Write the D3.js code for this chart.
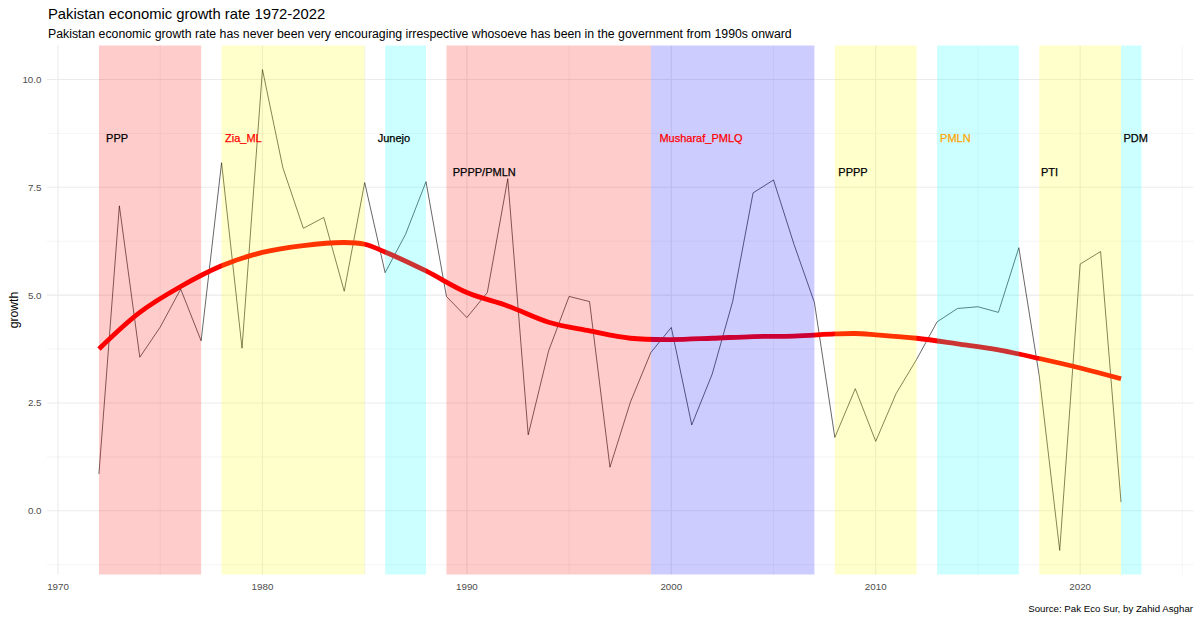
<!DOCTYPE html>
<html>
<head>
<meta charset="utf-8">
<script src="https://cdn.jsdelivr.net/npm/d3@7"></script>
<style>
  html, body { margin: 0; padding: 0; background: #fff; }
  svg { display: block; font-family: "Liberation Sans", Arial, sans-serif; }
</style>
</head>
<body>
<svg id="chart" width="1200" height="620"></svg>
<script>
// ---- data ----
const years = [1972,1973,1974,1975,1976,1977,1978,1979,1980,1981,1982,1983,1984,1985,1986,1987,1988,1989,1990,1991,1992,1993,1994,1995,1996,1997,1998,1999,2000,2001,2002,2003,2004,2005,2006,2007,2008,2009,2010,2011,2012,2013,2014,2015,2016,2017,2018,2019,2020,2021,2022];
const growth = [0.85,7.07,3.56,4.26,5.14,3.94,8.07,3.77,10.23,7.95,6.55,6.80,5.09,7.61,5.52,6.41,7.63,4.97,4.48,5.06,7.70,1.76,3.71,4.97,4.85,1.01,2.52,3.67,4.25,1.99,3.17,4.85,7.37,7.67,6.18,4.83,1.70,2.83,1.61,2.72,3.51,4.38,4.69,4.73,4.60,6.10,3.13,-0.92,5.72,6.01,0.20];

// smoothed trend (loess)
const smoothYears = [1972,1974,1976,1978,1980,1982,1984,1985,1986,1988,1990,1992,1994,1996,1998,2000,2002,2004,2006,2008,2009,2010,2012,2014,2016,2018,2020,2022];
const smoothVals  = [3.75,4.60,5.20,5.68,5.99,6.15,6.22,6.18,6.00,5.56,5.06,4.75,4.37,4.17,4.00,3.97,4.00,4.04,4.05,4.10,4.11,4.08,4.00,3.87,3.73,3.53,3.31,3.06];

// governments
const parties     = ["PPP","Zia_ML","Junejo","PPPP/PMLN","Musharaf_PMLQ","PPPP","PMLN","PTI","PDM"];
const startYears  = [1972,1978,1986,1989,1999,2008,2013,2018,2022];
const endYears    = [1977,1985,1988,1999,2007,2012,2017,2022,2023];
const fillColors  = ["red","yellow","cyan","red","blue","yellow","cyan","yellow","cyan"];
const labelColors = ["black","red","black","black","red","black","orange","black","black"];
const labelX      = [1972.35,1978.17,1985.64,1989.31,1999.42,2008.17,2013.15,2018.08,2022.12];
const labelY      = [8.65,8.65,8.65,7.85,8.65,7.85,8.65,7.85,8.65];

const xTicks = [1970,1980,1990,2000,2010,2020];
const xMinor = [1975,1985,1995,2005,2015,2025];
const yTicks = [0,2.5,5,7.5,10];
const yMinor = [-1.25,1.25,3.75,6.25,8.75];

const titleText = "Pakistan economic growth rate 1972-2022";
const subtitleText = "Pakistan economic growth rate has never been very encouraging irrespective whosoeve has been in the government from 1990s onward";
const captionText = "Source: Pak Eco Sur, by Zahid Asghar";
const yTitle = "growth";

// ---- layout ----
const svg = d3.select("#chart");
const panel = { left: 46.8, right: 1193.6, top: 45.5, bottom: 574.5 };

function padExtent(arr) {
  const [a, b] = d3.extent(arr);
  const p = (b - a) * 0.05;
  return [a - p, b + p];
}
const x = d3.scaleLinear().domain(padExtent(years.concat(startYears, endYears))).range([panel.left, panel.right]);
const y = d3.scaleLinear().domain(padExtent(growth)).range([panel.bottom, panel.top]);

// grid
const g = svg.append("g");
g.selectAll(".ymin").data(yMinor.filter(v => y(v) >= panel.top && y(v) <= panel.bottom)).enter().append("line")
  .attr("x1", panel.left).attr("x2", panel.right)
  .attr("y1", d => y(d)).attr("y2", d => y(d))
  .attr("stroke", "#EBEBEB").attr("stroke-width", 0.5);
g.selectAll(".xmin").data(xMinor.filter(v => x(v) <= panel.right)).enter().append("line")
  .attr("y1", panel.top).attr("y2", panel.bottom)
  .attr("x1", d => x(d)).attr("x2", d => x(d))
  .attr("stroke", "#EBEBEB").attr("stroke-width", 0.5);
g.selectAll(".ymaj").data(yTicks).enter().append("line")
  .attr("x1", panel.left).attr("x2", panel.right)
  .attr("y1", d => y(d)).attr("y2", d => y(d))
  .attr("stroke", "#EBEBEB").attr("stroke-width", 1.1);
g.selectAll(".xmaj").data(xTicks).enter().append("line")
  .attr("y1", panel.top).attr("y2", panel.bottom)
  .attr("x1", d => x(d)).attr("x2", d => x(d))
  .attr("stroke", "#EBEBEB").attr("stroke-width", 1.1);

// data line
const line = d3.line().x(d => x(d[0])).y(d => y(d[1]));
svg.append("path")
  .datum(years.map((yr, i) => [yr, growth[i]]))
  .attr("d", line)
  .attr("fill", "none").attr("stroke", "#000").attr("stroke-width", 0.6);

// smooth
const smoothLine = d3.line().curve(d3.curveCatmullRom.alpha(0.5)).x(d => x(d[0])).y(d => y(d[1]));
svg.append("path")
  .datum(smoothYears.map((yr, i) => [yr, smoothVals[i]]))
  .attr("d", smoothLine)
  .attr("fill", "none").attr("stroke", "red").attr("stroke-width", 4.8);

// government rects (drawn on top, translucent)
svg.selectAll(".gov").data(parties).enter().append("rect")
  .attr("x", (d, i) => x(startYears[i]))
  .attr("width", (d, i) => x(endYears[i]) - x(startYears[i]))
  .attr("y", panel.top)
  .attr("height", panel.bottom - panel.top)
  .attr("fill", (d, i) => fillColors[i])
  .attr("fill-opacity", 0.2);

// labels
svg.selectAll(".lab").data(parties).enter().append("text")
  .attr("x", (d, i) => x(labelX[i]))
  .attr("y", (d, i) => y(labelY[i]))
  .attr("dy", "0.36em")
  .attr("font-size", "11px")
  .attr("fill", (d, i) => labelColors[i])
  .attr("stroke", (d, i) => labelColors[i])
  .attr("stroke-width", 0.25)
  .text(d => d);

// axes labels
svg.selectAll(".xt").data(xTicks).enter().append("text")
  .attr("x", d => x(d)).attr("y", 590)
  .attr("text-anchor", "middle")
  .attr("font-size", "9.8px").attr("fill", "#4D4D4D")
  .text(d => d);
svg.selectAll(".yt").data(yTicks).enter().append("text")
  .attr("x", 41.5).attr("y", d => y(d)).attr("dy", "0.36em")
  .attr("text-anchor", "end")
  .attr("font-size", "9.8px").attr("fill", "#4D4D4D")
  .text(d => d3.format(".1f")(d));

svg.append("text")
  .attr("transform", `translate(18,${(panel.top + panel.bottom) / 2}) rotate(-90)`)
  .attr("text-anchor", "middle")
  .attr("font-size", "12.2px").attr("fill", "#000")
  .text(yTitle);

// titles
svg.append("text").attr("x", 48).attr("y", 18.5)
  .attr("font-size", "14.8px").attr("fill", "#000").text(titleText);
svg.append("text").attr("x", 48).attr("y", 37.5)
  .attr("font-size", "12.3px").attr("fill", "#000").text(subtitleText);
svg.append("text").attr("x", 1193).attr("y", 612)
  .attr("text-anchor", "end")
  .attr("font-size", "9.7px").attr("fill", "#000").text(captionText);
</script>
</body>
</html>
